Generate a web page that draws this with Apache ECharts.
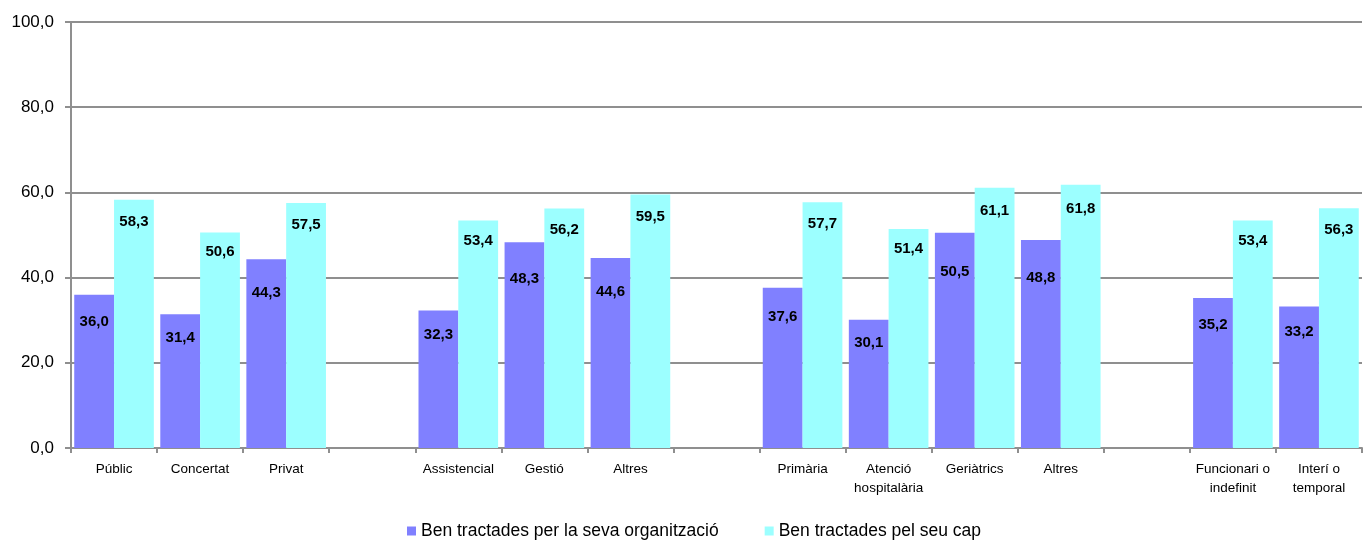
<!DOCTYPE html>
<html>
<head>
<meta charset="utf-8">
<script src="https://cdn.jsdelivr.net/npm/echarts@6/dist/echarts.min.js"></script>
<style>
html,body{margin:0;padding:0;background:#fff;}
#chart{width:1365px;height:541px;}
</style>
</head>
<body>
<div id="chart"></div>
<script>
const categories = ['Públic','Concertat','Privat','','Assistencial','Gestió','Altres','','Primària','Atenció\nhospitalària','Geriàtrics','Altres','','Funcionari o\nindefinit','Interí o\ntemporal'];
const seriesNames = ['Ben tractades per la seva organització','Ben tractades pel seu cap'];
const organitzacio = [36.0,31.4,44.3,null,32.3,48.3,44.6,null,37.6,30.1,50.5,48.8,null,35.2,33.2];
const cap = [58.3,50.6,57.5,null,53.4,56.2,59.5,null,57.7,51.4,61.1,61.8,null,53.4,56.3];
const yTicks = {min:0,max:100,interval:20};

const FONT = '"Liberation Sans",Arial,sans-serif';
const fmt = v => v.toFixed(1).replace('.', ',');
const chart = echarts.init(document.getElementById('chart'));
const axisGray = '#8f8f8f';
const labelCfg = (pos) => ({
  show:true, position:pos, align:'center', verticalAlign:'middle',
  fontFamily:FONT, fontWeight:'bold', fontSize:15, color:'#000',
  formatter: p => fmt(p.value)
});
chart.setOption({
  animation:false,
  grid:{left:71,right:3,top:22,bottom:93},
  legend:{
    bottom:1, left:407, padding:0, itemWidth:9, itemHeight:9, itemGap:46, icon:'rect',
    textStyle:{fontFamily:FONT, fontSize:17.5, color:'#000'},
    data:seriesNames
  },
  xAxis:{
    type:'category', data:categories,
    axisLine:{lineStyle:{color:axisGray,width:2}},
    axisTick:{show:true,alignWithLabel:false,length:5,lineStyle:{color:axisGray,width:2}},
    axisLabel:{interval:0,fontFamily:FONT,fontSize:13.5,color:'#000',margin:12,lineHeight:19}
  },
  yAxis:{
    type:'value', min:yTicks.min, max:yTicks.max, interval:yTicks.interval,
    axisLine:{show:true,lineStyle:{color:axisGray,width:2}},
    axisTick:{show:true,length:6,lineStyle:{color:axisGray,width:2}},
    splitLine:{lineStyle:{color:axisGray,width:2}},
    axisLabel:{fontFamily:FONT,fontSize:17,color:'#000',margin:17,formatter:v=>fmt(v)}
  },
  series:[
    {name:seriesNames[0],type:'bar',data:organitzacio,barGap:'0%',barCategoryGap:'7.5%',
     itemStyle:{color:'#8080FF'},label:labelCfg(['50%','18%'])},
    {name:seriesNames[1],type:'bar',data:cap,barGap:'0%',barCategoryGap:'7.5%',
     itemStyle:{color:'#9CFFFF'},label:labelCfg(['50%','9%'])}
  ]
});
</script>
</body>
</html>
